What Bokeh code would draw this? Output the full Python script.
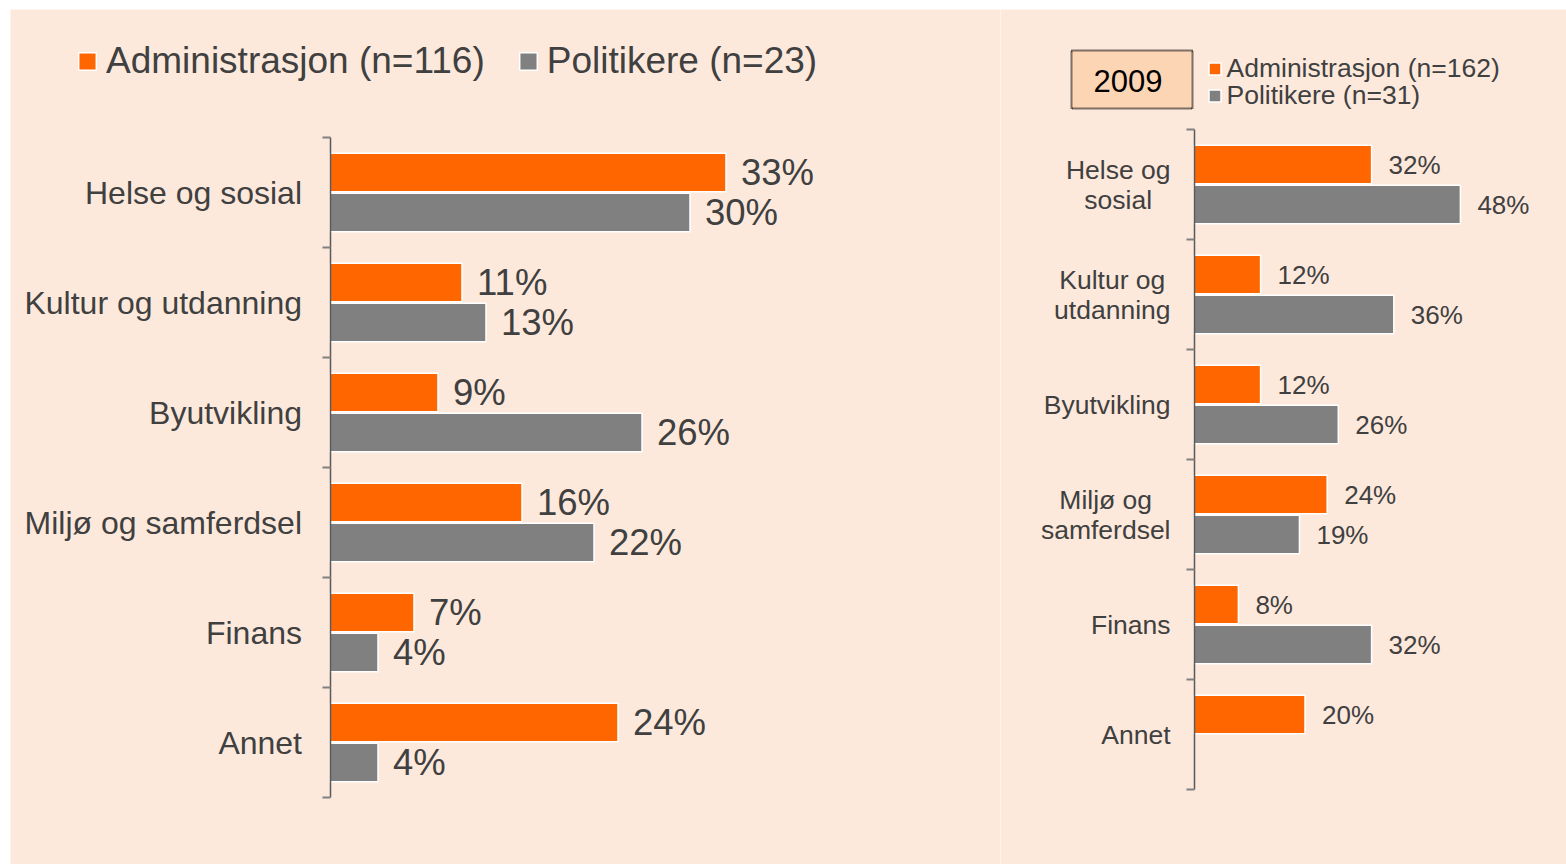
from bokeh.plotting import figure
from bokeh.models import Range1d, FixedTicker, Legend, LegendItem, BoxAnnotation, Label
from bokeh.layouts import row
from bokeh.embed import file_html
from bokeh.resources import INLINE
from bokeh.core.properties import value

# ---------------- data ----------------
categories_main = ["Helse og sosial", "Kultur og utdanning", "Byutvikling",
                   "Miljø og samferdsel", "Finans", "Annet"]
admin_main = [33, 11, 9, 16, 7, 24]
polit_main = [30, 13, 26, 22, 4, 4]
legend_main = ["Administrasjon (n=116)", "Politikere (n=23)"]

categories_2009 = [["Helse og", "sosial"], ["Kultur og", "utdanning"], ["Byutvikling"],
                   ["Miljø og", "samferdsel"], ["Finans"], ["Annet"]]
admin_2009 = [32, 12, 12, 24, 8, 20]
polit_2009 = [48, 36, 26, 19, 32, None]
legend_2009 = ["Administrasjon (n=162)", "Politikere (n=31)"]
year_label = "2009"

# ---------------- style ----------------
ORANGE = "#FF6600"
GREY = "#808080"
BG = "#FDE9DC"
TEXT = "#404040"
FONT = "Liberation Sans"
H = 864
FRAME_TOP = 9

# Arial / Liberation Sans advance widths (per em) for label centering
AW = {' ': .278, 'A': .667, 'B': .667, 'F': .611, 'H': .722, 'K': .667, 'M': .833,
      'a': .556, 'd': .556, 'e': .556, 'f': .278, 'g': .556, 'i': .222, 'j': .222,
      'k': .5, 'l': .222, 'm': .833, 'n': .556, 'o': .556, 'r': .333, 's': .5,
      't': .278, 'u': .556, 'v': .5, 'y': .5, 'ø': .611}


def text_w(s, size):
    return sum(AW.get(c, .556) for c in s) * size


UNIT = 110


def make_panel(page_left, page_right, frame_left, axis_px, top_px, px_pct, n):
    x_range = Range1d((frame_left - axis_px) / px_pct, (page_right - axis_px) / px_pct)
    y_range = Range1d(start=(H - top_px) / UNIT, end=(FRAME_TOP - top_px) / UNIT)
    p = figure(width=page_right - page_left, height=H, x_range=x_range, y_range=y_range,
               output_backend="svg", toolbar_location=None, min_border=0,
               min_border_left=frame_left - page_left, min_border_top=FRAME_TOP,
               background_fill_color=BG, border_fill_color="white", outline_line_color=None)
    p.xaxis.visible = False
    p.xgrid.visible = False
    p.ygrid.visible = False
    ax = p.yaxis[0]
    ax.fixed_location = 0
    ax.bounds = (0, n)
    ax.ticker = FixedTicker(ticks=list(range(n + 1)))
    ax.major_label_text_font_size = "0px"
    ax.major_label_text_alpha = 0
    ax.major_tick_out = 8
    ax.major_tick_in = 0
    ax.minor_tick_out = 0
    ax.minor_tick_in = 0
    ax.axis_line_color = "#5a5a5a"
    ax.axis_line_width = 1.5
    ax.major_tick_line_color = "#808080"
    ax.major_tick_line_width = 2
    return p


def legend_style(**kw):
    base = dict(padding=0, margin=0, border_line_alpha=0, background_fill_alpha=0,
                label_text_font=FONT, label_text_color=TEXT)
    base.update(kw)
    return base


BAR_H = 38.5 / UNIT
OFF = 20 / UNIT

# ---------------- main panel ----------------
L1, R1, FL1 = 0, 1000, 10
AX1 = 329.5
TOP1 = 137
PX1 = 12.0
n = len(categories_main)
p1 = make_panel(L1, R1, FL1, AX1, TOP1, PX1, n)
centers = [i + 0.5 for i in range(n)]
ya = [c - OFF for c in centers]
yp = [c + OFF for c in centers]

ra = p1.hbar(y=ya, left=0, right=admin_main, height=BAR_H, fill_color=ORANGE,
             line_color="white", line_width=1.5)
rp = p1.hbar(y=yp, left=0, right=polit_main, height=BAR_H, fill_color=GREY,
             line_color="white", line_width=1.5)

p1.text(x=admin_main, y=ya, text=[f"{v}%" for v in admin_main], x_offset=15,
        text_baseline="middle", text_font=value(FONT), text_font_size="36.5px", text_color=TEXT)
p1.text(x=polit_main, y=yp, text=[f"{v}%" for v in polit_main], x_offset=15,
        text_baseline="middle", text_font=value(FONT), text_font_size="36.5px", text_color=TEXT)
p1.text(x=[0] * n, y=centers, text=categories_main, x_offset=-28, text_align="right",
        text_baseline="middle", text_font=value(FONT), text_font_size="32px", text_color=TEXT)

leg1 = Legend(items=[LegendItem(label=legend_main[0], renderers=[ra]),
                     LegendItem(label=legend_main[1], renderers=[rp])],
              orientation="horizontal", location=(76 - FL1, H - 82),
              glyph_width=22, glyph_height=22, label_standoff=8, spacing=32,
              **legend_style(label_text_font_size="37px"))
p1.add_layout(leg1)

# ---------------- 2009 panel ----------------
L2, R2, FL2 = 1000, 1566, 1000
AX2 = 1193.5
TOP2 = 129
PX2 = 5.55
p2 = make_panel(L2, R2, FL2, AX2, TOP2, PX2, n)


def fx2(px):
    return (px - AX2) / PX2


def fy2(py):
    return (py - TOP2) / UNIT


ra2 = p2.hbar(y=ya, left=0, right=admin_2009, height=BAR_H, fill_color=ORANGE,
              line_color="white", line_width=1.5)
pv = [(y, v) for y, v in zip(yp, polit_2009) if v is not None]
rp2 = p2.hbar(y=[a for a, _ in pv], left=0, right=[b for _, b in pv], height=BAR_H,
              fill_color=GREY, line_color="white", line_width=1.5)

p2.text(x=admin_2009, y=ya, text=[f"{v}%" for v in admin_2009], x_offset=17,
        text_baseline="middle", text_font=value(FONT), text_font_size="26px", text_color=TEXT)
p2.text(x=[b for _, b in pv], y=[a for a, _ in pv], text=[f"{b}%" for _, b in pv], x_offset=17,
        text_baseline="middle", text_font=value(FONT), text_font_size="26px", text_color=TEXT)

LS = 15 / UNIT
lx, ly, lt, lo = [], [], [], []
for i, lines in enumerate(categories_2009):
    maxw = max(text_w(s, 26.5) for s in lines)
    k = len(lines)
    for j, s in enumerate(lines):
        lx.append(0)
        ly.append(centers[i] + (j - (k - 1) / 2) * 2 * LS)
        lt.append(s)
        lo.append(-(23.5 + maxw / 2))
p2.text(x=lx, y=ly, text=lt, x_offset=lo, text_align="center", text_baseline="middle",
        text_font=value(FONT), text_font_size="26.5px", text_color=TEXT)

# legend of the 2009 panel: one entry per row, rows 27px apart
for k, (lab, rend) in enumerate(zip(legend_2009, [ra2, rp2])):
    p2.add_layout(Legend(items=[LegendItem(label=lab, renderers=[rend])],
                         orientation="vertical", location=(1206.5 - FL2, H - (84 + 27 * k)),
                         glyph_width=15, glyph_height=15, label_standoff=5,
                         **legend_style(label_text_font_size="26.5px")))

box = BoxAnnotation(left=fx2(1071), right=fx2(1192), top=fy2(50), bottom=fy2(108),
                    fill_color="#FCD5B5", fill_alpha=1, line_color="black", line_alpha=1,
                    line_width=2, line_dash="1 1", level="annotation")
p2.add_layout(box)
p2.add_layout(Label(x=fx2(1127.5), y=fy2(80), text=year_label,
                    text_align="center", text_baseline="middle", text_font=FONT,
                    text_font_size="31px", text_color="black"))

layout = row(p1, p2, spacing=0)
open("out.html", "w").write(file_html(layout, INLINE))
